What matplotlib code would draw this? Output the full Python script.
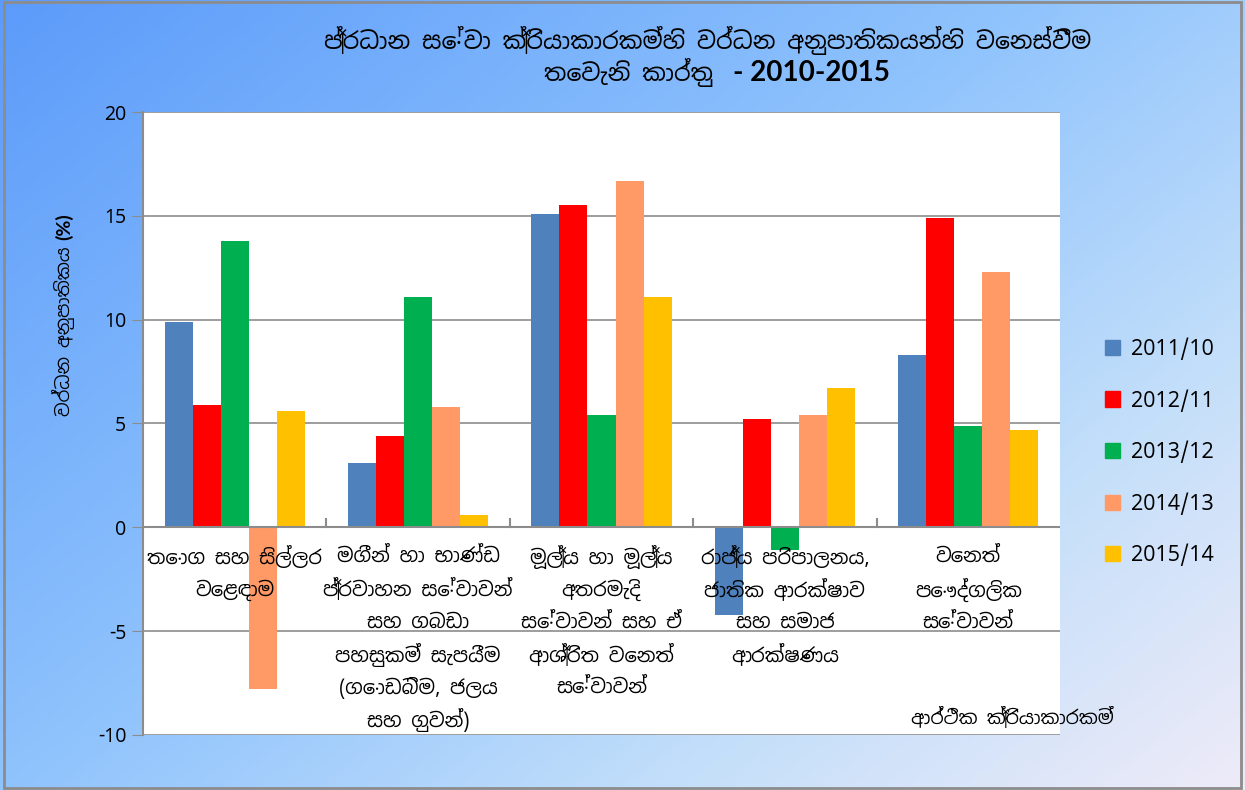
import numpy as np
import matplotlib
matplotlib.use("Agg")
import matplotlib.pyplot as plt
from matplotlib.patches import Patch
from matplotlib.colors import LinearSegmentedColormap

plt.rcParams['font.family'] = ['Noto Sans Sinhala', 'Noto Sans', 'DejaVu Sans']
BOLD_LAT = ['Lato', 'DejaVu Sans']

categories = [
    "තොග සහ සිල්ලර\nවෙළඳාම",
    "මගීන් හා භාණ්ඩ\nප්‍රවාහන සේවාවන්\nසහ ගබඩා\nපහසුකම් සැපයීම\n(ගොඩබිම, ජලය\nසහ ගුවන්)",
    "මූල්‍ය හා මූල්‍ය\nඅතරමැදි\nසේවාවන් සහ ඒ\nආශ්‍රිත වෙනත්\nසේවාවන්",
    "රාජ්‍ය පරිපාලනය,\nජාතික ආරක්ෂාව\nසහ සමාජ\nආරක්ෂණය",
    "වෙනත්\nපෞද්ගලික\nසේවාවන්",
]
series_names = ["2011/10", "2012/11", "2013/12", "2014/13", "2015/14"]
v_2011 = [9.9, 3.1, 15.1, -4.2, 8.3]
v_2012 = [5.9, 4.4, 15.5, 5.2, 14.9]
v_2013 = [13.8, 11.1, 5.4, -1.1, 4.9]
v_2014 = [-7.8, 5.8, 16.7, 5.4, 12.3]
v_2015 = [5.6, 0.6, 11.1, 6.7, 4.7]
colors = ["#4F81BD", "#FF0000", "#00B050", "#FF9966", "#FFC000"]

title_1 = "ප්‍රධාන සේවා ක්‍රියාකාරකම්හි වර්ධන අනුපාතිකයන්හි වෙනස්වීම"
title_2 = "තෙවැනි කාර්තු"
title_3 = "- 2010-2015"
y_title = "වර්ධන අනුපාතිකය"
y_unit = "(%)"
x_title = "ආර්ථික ක්‍රියාකාරකම්"

fig = plt.figure(figsize=(12.45, 7.9), dpi=100)

# gradient background
bg = fig.add_axes([0, 0, 1, 1], zorder=-10)
gx, gy = np.meshgrid(np.linspace(0, 1, 300), np.linspace(0, 1, 200))
t = np.clip(0.55 * gx + 0.45 * gy, 0, 1)
cmap = LinearSegmentedColormap.from_list(
    "bg", [(0, "#5C9BFA"), (0.45, "#8FC3FD"), (0.75, "#C4DFFA"), (1, "#EEEBF8")])
bg.imshow(t, cmap=cmap, aspect="auto", extent=[0, 1, 0, 1], origin="upper")
bg.set_xlim(0, 1); bg.set_ylim(0, 1)
bg.axis("off")
bg.add_patch(plt.Rectangle((0.003, 0.003), 0.994, 0.994, fill=False,
                           edgecolor="#8C8C8C", lw=2, transform=bg.transAxes))

ax = fig.add_axes([143 / 1245, 1 - 735 / 790, (1060 - 143) / 1245, (735 - 112) / 790])
ax.set_facecolor("white")

data = [v_2011, v_2012, v_2013, v_2014, v_2015]
x = np.arange(len(categories))
w = 0.153
for i, (vals, name, c) in enumerate(zip(data, series_names, colors)):
    ax.bar(x + (i - 2) * w, vals, width=w, color=c, label=name, zorder=3)

ax.set_xlim(-0.5, len(categories) - 0.5)
ax.set_ylim(-10, 20)
ax.set_yticks([-10, -5, 0, 5, 10, 15, 20])
ax.set_yticklabels(["-10", "-5", "0", "5", "10", "15", "20"], fontsize=14)
ax.yaxis.grid(True, color="#8C8C8C", lw=1.2, zorder=0)
ax.tick_params(axis="y", length=8, color="#8C8C8C", pad=4)
ax.set_xticks([])
for s in ["top", "right", "bottom"]:
    ax.spines[s].set_visible(False)
ax.spines["left"].set_color("#8C8C8C")
ax.spines["left"].set_linewidth(1.5)
ax.axhline(0, color="#8C8C8C", lw=1.5, zorder=4)
for b in np.arange(0.5, len(categories) - 0.5, 1):
    ax.plot([b, b], [0, 0.4], color="#8C8C8C", lw=1.5, zorder=4)

# category labels, one line at a time for even spacing
for xi, lab in zip(x, categories):
    for k, line in enumerate(lab.split("\n")):
        ax.text(xi, -1.44 - 1.57 * k, line, ha="center", va="center",
                fontsize=14, zorder=5)

# y axis title: Sinhala part + bold (%)
fig.text(64 / 1245, 1 - 246 / 790, y_title, rotation=90, rotation_mode="anchor",
         ha="right", va="center", fontsize=13)
fig.text(64 / 1245, 1 - 240 / 790, y_unit, rotation=90, rotation_mode="anchor",
         ha="left", va="center", fontsize=14, fontweight="bold", family=BOLD_LAT)

fig.text(0.568, 0.949, title_1, ha="center", va="center", fontsize=17)
fig.text(0.573, 0.908, title_2, ha="right", va="center", fontsize=17)
fig.text(0.589, 0.908, title_3, ha="left", va="center", fontsize=20,
         fontweight="bold", family=BOLD_LAT)
fig.text(0.813, 0.092, x_title, ha="center", va="center", fontsize=13.5)

handles = [Patch(color=c) for c in colors]
fig.legend(handles, series_names, loc="center left", bbox_to_anchor=(0.872, 0.428),
           frameon=False, fontsize=15.5, handlelength=0.7, handleheight=0.7,
           labelspacing=1.35, handletextpad=0.5)

fig.savefig("out.png", dpi=100)
